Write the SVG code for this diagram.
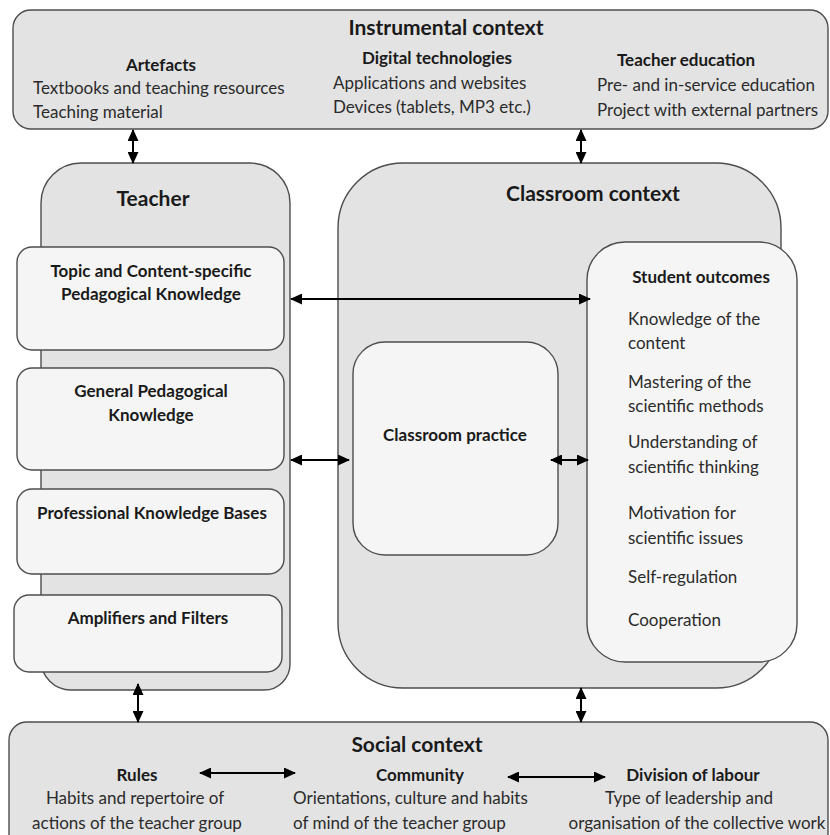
<svg xmlns="http://www.w3.org/2000/svg" width="830" height="835" viewBox="0 0 830 835">
  <defs>
    <marker id="head" viewBox="0 0 12 11" refX="11" refY="5.5" markerWidth="12" markerHeight="11" markerUnits="userSpaceOnUse" orient="auto-start-reverse">
      <path d="M0,0 L12,5.5 L0,11 z" fill="#000"/>
    </marker>
    <style>
      .outer { fill: #e3e3e3; stroke: #4d4d4d; stroke-width: 1.4; }
      .inner { fill: #f5f5f5; stroke: #4d4d4d; stroke-width: 1.4; }
      text { font-family: Lato, "Liberation Sans", sans-serif; fill: #2b2b2b; }
      .title { font-size: 21px; font-weight: bold; fill: #1a1a1a; }
      .head { font-size: 17px; font-weight: bold; fill: #1a1a1a; }
      .body { font-size: 17px; }
      .mid { text-anchor: middle; }
      .link { stroke: #000; stroke-width: 2; fill: none; marker-start: url(#head); marker-end: url(#head); }
    </style>
  </defs>
  <rect width="830" height="835" fill="#fff"/>

  <!-- Instrumental context -->
  <g id="instrumental">
    <rect class="outer" x="13" y="10" width="815" height="119" rx="18"/>
    <text class="title mid" x="446" y="35">Instrumental context</text>
    <text class="head mid" x="161" y="71">Artefacts</text>
    <text class="body" x="33" y="94">Textbooks and teaching resources</text>
    <text class="body" x="33" y="118">Teaching material</text>
    <text class="head mid" x="437" y="64">Digital technologies</text>
    <text class="body" x="333" y="89">Applications and websites</text>
    <text class="body" x="333" y="113">Devices (tablets, MP3 etc.)</text>
    <text class="head mid" x="686" y="66">Teacher education</text>
    <text class="body" x="597" y="91">Pre- and in-service education</text>
    <text class="body" x="597" y="116">Project with external partners</text>
  </g>

  <!-- Teacher -->
  <g id="teacher">
    <path class="outer" d="M81,163 H250 A40,40 0 0 1 290,203 V664 A26,26 0 0 1 264,690 H71 A30,30 0 0 1 41,660 V203 A40,40 0 0 1 81,163 Z"/>
    <text class="title mid" x="153" y="206">Teacher</text>
  </g>
  <g id="topic-knowledge">
    <rect class="inner" x="17" y="247" width="267" height="103" rx="15"/>
    <text class="head mid" x="151" y="277">Topic and Content-specific</text>
    <text class="head mid" x="151" y="300">Pedagogical Knowledge</text>
  </g>
  <g id="general-knowledge">
    <rect class="inner" x="17" y="368" width="267" height="102" rx="15"/>
    <text class="head mid" x="151" y="397">General Pedagogical</text>
    <text class="head mid" x="151" y="421">Knowledge</text>
  </g>
  <g id="professional-knowledge">
    <rect class="inner" x="17" y="489" width="267" height="85" rx="15"/>
    <text class="head mid" x="152" y="519">Professional Knowledge Bases</text>
  </g>
  <g id="amplifiers">
    <rect class="inner" x="14" y="595" width="268" height="77" rx="15"/>
    <text class="head mid" x="148" y="624">Amplifiers and Filters</text>
  </g>

  <!-- Classroom context -->
  <g id="classroom">
    <rect class="outer" x="338" y="163" width="443" height="525" rx="65"/>
    <text class="title mid" x="593" y="201">Classroom context</text>
  </g>
  <g id="practice">
    <rect class="inner" x="353" y="342" width="205" height="213" rx="32"/>
    <text class="head mid" x="455" y="441">Classroom practice</text>
  </g>
  <g id="outcomes">
    <rect class="inner" x="587" y="242" width="210" height="420" rx="38"/>
    <text class="head mid" x="701" y="283">Student outcomes</text>
    <text class="body" x="628" y="325">Knowledge of the</text>
    <text class="body" x="628" y="349">content</text>
    <text class="body" x="628" y="388">Mastering of the</text>
    <text class="body" x="628" y="412">scientific methods</text>
    <text class="body" x="628" y="448">Understanding of</text>
    <text class="body" x="628" y="473">scientific thinking</text>
    <text class="body" x="628" y="519">Motivation for</text>
    <text class="body" x="628" y="544">scientific issues</text>
    <text class="body" x="628" y="583">Self-regulation</text>
    <text class="body" x="628" y="626">Cooperation</text>
  </g>

  <!-- Social context -->
  <g id="social">
    <rect class="outer" x="9" y="722" width="819" height="140" rx="18"/>
    <text class="title mid" x="417" y="752">Social context</text>
    <text class="head mid" x="137" y="781">Rules</text>
    <text class="body mid" x="135" y="804">Habits and repertoire of</text>
    <text class="body mid" x="137" y="829">actions of the teacher group</text>
    <text class="head mid" x="420" y="781">Community</text>
    <text class="body" x="293" y="804">Orientations, culture and habits</text>
    <text class="body" x="293" y="829">of mind of the teacher group</text>
    <text class="head mid" x="693" y="781">Division of labour</text>
    <text class="body mid" x="689" y="804">Type of leadership and</text>
    <text class="body mid" x="697" y="829">organisation of the collective work</text>
  </g>

  <!-- Connectors: all double-headed -->
  <g id="connectors">
    <line class="link" x1="133" y1="130" x2="133" y2="163"/>
    <line class="link" x1="581" y1="130" x2="581" y2="163"/>
    <line class="link" x1="291" y1="299" x2="590" y2="299"/>
    <line class="link" x1="291" y1="460" x2="349" y2="460"/>
    <line class="link" x1="551" y1="460" x2="588" y2="460"/>
    <line class="link" x1="138" y1="684" x2="138" y2="722"/>
    <line class="link" x1="581" y1="688" x2="581" y2="722"/>
    <line class="link" x1="200" y1="773" x2="295" y2="773"/>
    <line class="link" x1="508" y1="777" x2="605" y2="777"/>
  </g>
</svg>
